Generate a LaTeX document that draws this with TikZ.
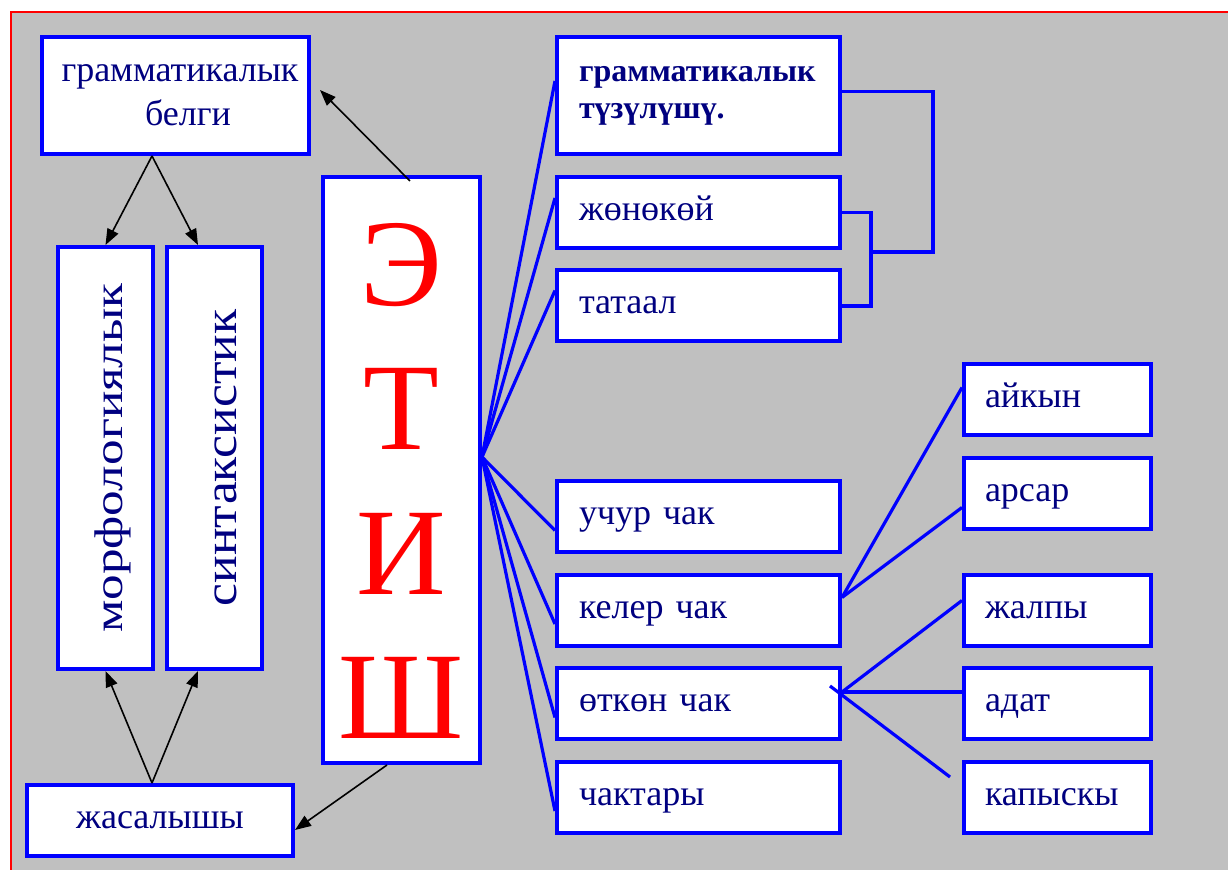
\documentclass[tikz,border=0pt]{standalone}
\usepackage{fontspec}
\setmainfont{Liberation Serif}
\usepackage{graphicx}
\usetikzlibrary{arrows.meta}
\definecolor{navy}{RGB}{0,0,128}
\definecolor{silver}{RGB}{192,192,192}
\begin{document}
\begin{tikzpicture}[x=.5pt,y=-.5pt,
  box/.style={draw=blue,fill=white,line width=2pt,text=navy,inner sep=0pt,font=\fontsize{18}{22}\selectfont},
  rcol/.style={box,text width=119.5pt,inner xsep=11pt,align=left,minimum height=35.5pt},
  rsub/.style={box,text width=72.5pt,inner xsep=10.5pt,align=left,minimum height=35.5pt},
  one/.style={text height=8pt,text depth=0pt},
  wire/.style={blue,line width=1.6pt},
  arr/.style={line width=.8pt,-{Triangle[length=8pt,width=6pt]}}]
\fill[white](0,0)rectangle(1228,870);
\useasboundingbox(0,0)rectangle(1228,870);
\fill[silver](11,12)rectangle(1228,870);
\draw[red,line width=1pt](1228,12)--(11,12)--(11,870);
% left column
\node[box,align=center,minimum width=133.5pt,minimum height=58.5pt](belgi)at(175.5,95.5){\hspace*{4.5pt}грамматикалык\\\hspace*{12.5pt}белги};
\node[box,minimum width=47.5pt,minimum height=211pt,font=\fontsize{20}{24}\selectfont](morf)at(105.5,458){\hspace*{7pt}\rotatebox{90}{\scalebox{1.28}[1]{морфологиялык}}};
\node[box,minimum width=47.5pt,minimum height=211pt,font=\fontsize{23}{27}\selectfont](sint)at(214.5,458){\hspace*{11.5pt}\rotatebox{90}{\scalebox{1.12}[1]{синтаксистик}}};
\node[box,one,minimum width=133pt,minimum height=35.5pt](jasal)at(160,820.5){жасалышы};
\node[box,text=red,align=center,minimum width=78.5pt,minimum height=293pt,font=\fontsize{62}{72.25}\selectfont](etish)at(401.5,470){\rule{0pt}{52pt}Э\\Т\\И\\Ш};
% right columns
\node[rcol,minimum height=58.5pt,font=\bfseries\fontsize{16}{18.5}\selectfont](gts)at(698.5,95.5){грамматикалык\\түзүлүшү.};
\node[rcol,one](jon)at(698.5,212.5){жөнөкөй};
\node[rcol,one](tat)at(698.5,306){татаал};
\foreach \n/\y/\t in {uchur/517/учур чак,keler/610.5/келер чак,otkon/704/өткөн чак,chak/797.5/чактары}
  \node[rcol,one](\n)at(698.5,\y){\t};
\foreach \n/\y/\t in {aikyn/399.5/айкын,arsar/493.5/арсар,jalpy/610.5/жалпы,adat/704/адат,kapys/797.5/капыскы}
  \node[rsub,one](\n)at(1057.5,\y){\t};
% fan from the verb box
\coordinate(fan)at([yshift=6.5pt]etish.east);
\foreach \b/\d in {gts/-23,jon/-11.5,tat/-11}\draw[wire](fan)--([yshift=\d pt]\b.north west);
\foreach \b in {uchur,keler,otkon,chak}\draw[wire](fan)--([yshift=12pt]\b.south west);
% brackets
\coordinate(br1)at(933,252);\coordinate(br2)at(871,252);
\draw[wire]([yshift=2pt]gts.east)-|(br1)--(br2);
\draw[wire](jon.east)-|(br2)|-(tat.east);
% tenses
\coordinate(kl)at([yshift=6.5pt]keler.east);
\draw[wire](kl)--([yshift=6pt]aikyn.west);
\draw[wire](kl)--([yshift=-7pt]arsar.west);
\coordinate(ot)at([yshift=6pt]otkon.east);
\coordinate(kp)at([xshift=-6pt,yshift=-8.5pt]kapys.north west);
\draw[wire](ot)--([yshift=5pt]jalpy.west);
\draw[wire](ot)--([yshift=6pt]adat.west);
\draw[wire]([xshift=-6pt,yshift=3pt]ot)--(kp);
% black arrows
\draw[arr]([xshift=4.25pt,yshift=-3pt]etish.north)--([xshift=4.5pt,yshift=2.75pt]belgi.east);
\draw[arr]([xshift=-11.75pt]belgi.south)--(morf.north);
\draw[arr]([xshift=-11.75pt]belgi.south)--([xshift=-8.25pt]sint.north);
\draw[arr]([xshift=-4pt]jasal.north)--(morf.south);
\draw[arr]([xshift=-4pt]jasal.north)--([xshift=-8.25pt]sint.south);
\draw[arr]([xshift=-7.25pt]etish.south)--([yshift=-4.75pt]jasal.east);
\end{tikzpicture}
\end{document}
